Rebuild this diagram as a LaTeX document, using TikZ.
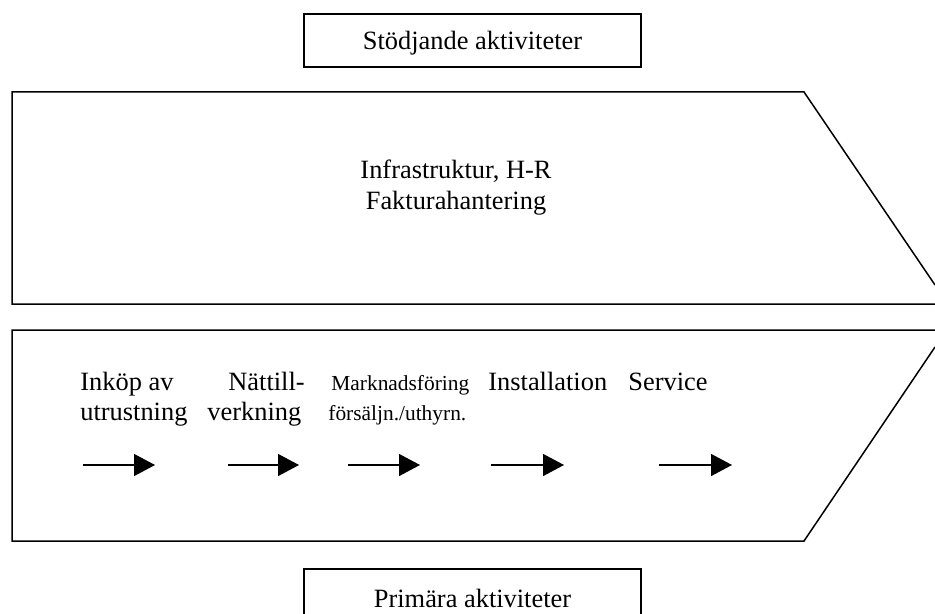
\documentclass[tikz,border=0pt]{standalone}
\usepackage{fontspec}
\setmainfont{Liberation Serif}
\usetikzlibrary{arrows.meta}
\begin{document}
\begin{tikzpicture}[x=0.5pt,y=-0.5pt,
  outline/.style={line width=0.75pt, line join=miter},
  labelbox/.style={draw, line width=0.75pt, rectangle, minimum width=168.5pt, minimum height=26.5pt, inner sep=0pt},
  bigtext/.style={font=\fontsize{13.2}{15.5}\selectfont, inner sep=0pt},
  smalltext/.style={font=\fontsize{10.7}{13}\selectfont, inner sep=0pt},
  flow/.style={line width=0.7pt, -{Triangle[length=10.5pt,width=11pt]}}]
\useasboundingbox (0,0) rectangle (935,614);
\begin{scope}
\clip (0,0) rectangle (935,614);
% support activities shape
\draw[outline] (935,285) -- (804,92) -- (12,92) -- (12,304) -- (935,304);
% primary activities shape
\draw[outline] (935,347) -- (804,541) -- (12,541) -- (12,330) -- (935,330);
% bottom label box (runs past the lower edge)
\node[labelbox, minimum height=28pt] (prim) at (472.5,597) {};
\end{scope}
% top label box
\node[labelbox] (stod) at (472.5,40.5) {};
\node[bigtext, anchor=base] (stodtxt) at (472.5,50) {Stödjande aktiviteter};
\node[bigtext, anchor=base] (primtxt) at (472.5,607) {Primära aktiviteter};
% support text
\node[bigtext, anchor=base] (infra) at (456,179) {Infrastruktur, H-R};
\node[bigtext, anchor=base] (faktura) at (456,210) {Fakturahantering};
% primary activities text
\node[bigtext, anchor=base west] (ink1) at (80,390) {Inköp av};
\node[bigtext, anchor=base west] (ink2) at (80,420) {utrustning};
\node[bigtext, anchor=base west] (nat1) at (228,390) {Nättill-};
\node[bigtext, anchor=base west] (nat2) at (207,420) {verkning};
\node[smalltext, anchor=base west] (mark1) at (331,390) {Marknadsföring};
\node[smalltext, anchor=base west] (mark2) at (328,420) {försäljn./uthyrn.};
\node[bigtext, anchor=base west] (inst) at (488,390) {Installation};
\node[bigtext, anchor=base west] (serv) at (628,390) {Service};
% arrows
\coordinate (a1s) at (83,465);  \coordinate (a1e) at (155,465);
\coordinate (a2s) at (228,465); \coordinate (a2e) at (299,465);
\coordinate (a3s) at (348,465); \coordinate (a3e) at (420,465);
\coordinate (a4s) at (491,465); \coordinate (a4e) at (564,465);
\coordinate (a5s) at (659,465); \coordinate (a5e) at (732,465);
\draw[flow] (a1s) -- (a1e);
\draw[flow] (a2s) -- (a2e);
\draw[flow] (a3s) -- (a3e);
\draw[flow] (a4s) -- (a4e);
\draw[flow] (a5s) -- (a5e);
\end{tikzpicture}
\end{document}
